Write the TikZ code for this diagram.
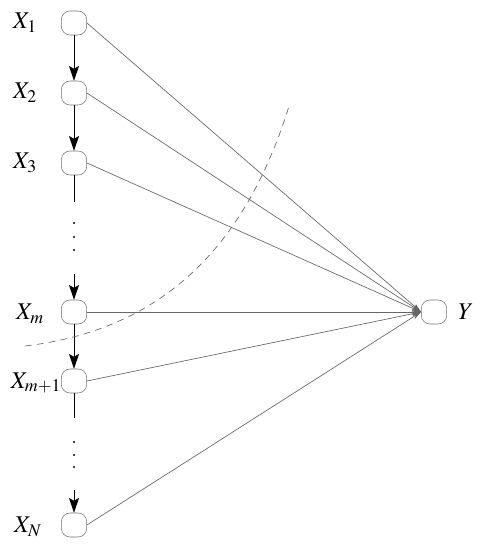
\documentclass[tikz,border=0pt]{standalone}
\usepackage{mathptmx}
\usetikzlibrary{arrows.meta}
\begin{document}
\begin{tikzpicture}[x=0.75pt,y=-0.75pt,
  var/.style={draw=black!55,rounded corners=6.5pt,minimum width=19pt,minimum height=18pt,inner sep=0pt},
  chain/.style={draw=black,line width=0.7pt,-{Stealth[length=11pt,width=7.5pt,inset=2pt]}},
  plain/.style={draw=black,line width=0.7pt},
  toy/.style={draw=black!60,line width=0.5pt,-{Stealth[length=7pt,width=4pt]}},
  dot/.style={fill=black},
  lab/.style={font=\fontsize{18}{20}\selectfont}]
\useasboundingbox (0,0) rectangle (482,550);
\node[var] (x1) at (74,23) {};
\node[var] (x2) at (74,93) {};
\node[var] (x3) at (74,163) {};
\node[var] (xm) at (74,312) {};
\node[var] (xm1) at (74,381) {};
\node[var] (xn) at (74,525) {};
\node[var] (y) at (434,312) {};
\node[lab] (l1) at (25,23) {$X_1$};
\node[lab] (l2) at (25,93) {$X_2$};
\node[lab] (l3) at (25,163) {$X_3$};
\node[lab] (lm) at (30,314) {$X_m$};
\node[lab] (lm1) at (36,383) {$X_{m+1}$};
\node[lab] (ln) at (28,527) {$X_N$};
\node[lab] (ly) at (466,312) {$Y$};
\coordinate (c3) at (74,202);
\coordinate (cm) at (74,274);
\coordinate (cm1) at (74,418);
\coordinate (cn) at (74,490);
\foreach \yy in {223,237,250,442,455,467}
  \fill[dot] (74,\yy) circle (0.8pt);
\draw[chain] (x1) -- (x2);
\draw[chain] (x2) -- (x3);
\draw[plain] (x3) -- (c3);
\draw[chain] (cm) -- (xm);
\draw[chain] (xm) -- (xm1);
\draw[plain] (xm1) -- (cm1);
\draw[chain] (cn) -- (xn);
\foreach \n in {x1,x2,x3,xm,xm1,xn}
  \draw[toy] (\n.east) -- (y.west);
\coordinate (ds) at (25,346);
\coordinate (de) at (290,103);
\draw[dashed,draw=black!60,line width=0.5pt,dash pattern=on 5pt off 4pt] (ds) .. controls (160,330) and (245,250) .. (de);
\end{tikzpicture}
\end{document}
